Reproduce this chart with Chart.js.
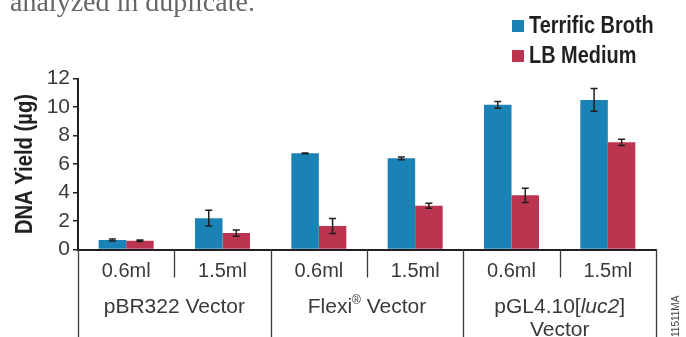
<!DOCTYPE html>
<html>
<head>
<meta charset="utf-8">
<script src="https://cdn.jsdelivr.net/npm/chart.js@4/dist/chart.umd.min.js"></script>
<style>
  html, body { margin: 0; padding: 0; background: #fff; overflow: hidden; }
  #wrap { position: relative; width: 686px; height: 337px; }
</style>
</head>
<body>
<div id="wrap"><canvas id="c"></canvas></div>
<script>
// Culture volume per bar pair
const volumes = ['0.6ml', '1.5ml', '0.6ml', '1.5ml', '0.6ml', '1.5ml'];

// Vector groups (two volumes each); runs allow italic / superscript parts
const vectorGroups = [
  [[{ t: 'pBR322 Vector' }]],
  [[{ t: 'Flexi' }, { t: '®', sup: true }, { t: ' Vector' }]],
  [[{ t: 'pGL4.10[' }, { t: 'luc2', italic: true }, { t: ']' }], [{ t: 'Vector' }]]
];

// DNA yield (µg), mean and error of duplicate preps
const terrificBroth    = [0.67, 2.20, 6.75, 6.40, 10.15, 10.50];
const terrificBrothErr = [0.07, 0.55, 0.03, 0.10, 0.23, 0.80];
const lbMedium         = [0.62, 1.15, 1.65, 3.07, 3.80, 7.52];
const lbMediumErr      = [0.05, 0.22, 0.53, 0.18, 0.50, 0.22];

const seriesNames = ['Terrific Broth', 'LB Medium'];
const yTitle = 'DNA Yield (µg)';
const captionTail = 'analyzed in duplicate.';
const figureCode = '11511MA';

const BLUE = '#1a82b4';
const RED = '#bb3551';
const INK = '#231f20';
const SANS = '"Liberation Sans", Arial, sans-serif';

// Bold condensed text: Liberation Sans Bold squeezed horizontally
function condensedText(ctx, text, x, y, size, squeeze, align) {
  ctx.save();
  ctx.font = 'bold ' + size + 'px ' + SANS;
  ctx.translate(x, y);
  ctx.scale(squeeze, 1);
  ctx.textAlign = align || 'left';
  ctx.fillText(text, 0, 0);
  ctx.restore();
}

// Error bars drawn from each bar's value +/- its error on the y scale
const errorBars = {
  id: 'errorBars',
  afterDatasetsDraw(chart) {
    const ctx = chart.ctx;
    const y = chart.scales.y;
    chart.data.datasets.forEach((ds, d) => {
      const meta = chart.getDatasetMeta(d);
      meta.data.forEach((bar, i) => {
        const v = ds.data[i], e = ds.errors[i];
        const top = y.getPixelForValue(v + e);
        const bot = y.getPixelForValue(v - e);
        ctx.save();
        ctx.strokeStyle = '#1e1e1e';
        ctx.lineWidth = 1.5;
        ctx.beginPath();
        ctx.moveTo(bar.x, top); ctx.lineTo(bar.x, bot);
        ctx.moveTo(bar.x - 3.5, top); ctx.lineTo(bar.x + 3.5, top);
        ctx.moveTo(bar.x - 3.5, bot); ctx.lineTo(bar.x + 3.5, bot);
        ctx.stroke();
        ctx.restore();
      });
    });
  }
};

// Category table below the axis: dividers and vector group names
function drawRuns(ctx, runs, cx, baseline, size) {
  const fontFor = r => (r.italic ? 'italic ' : '') + (r.sup ? Math.round(size * 0.55) : size) + 'px ' + SANS;
  let total = 0;
  runs.forEach(r => { ctx.font = fontFor(r); total += ctx.measureText(r.t).width; });
  let x = cx - total / 2;
  runs.forEach(r => {
    ctx.font = fontFor(r);
    ctx.fillText(r.t, x, r.sup ? baseline - size * 0.42 : baseline);
    x += ctx.measureText(r.t).width;
  });
}

const categoryTable = {
  id: 'categoryTable',
  afterDraw(chart) {
    const ctx = chart.ctx;
    const xs = chart.scales.x;
    const n = chart.data.labels.length;
    const step = (xs.right - xs.left) / n;
    const top = xs.top;
    ctx.save();
    ctx.strokeStyle = '#3a3a3a';
    ctx.lineWidth = 1.3;
    for (let k = 0; k <= n; k++) {
      const x = Math.round(xs.left + k * step) + 0.5;
      ctx.beginPath();
      ctx.moveTo(x, top);
      ctx.lineTo(x, k % 2 === 0 ? chart.height : top + 28);
      ctx.stroke();
    }
    ctx.fillStyle = '#3a3a3a';
    ctx.textBaseline = 'alphabetic';
    vectorGroups.forEach((lines, g) => {
      const cx = xs.left + (2 * g + 1) * step;
      lines.forEach((runs, li) => drawRuns(ctx, runs, cx, 313 + li * 23, 21));
    });
    ctx.restore();
  }
};

// Legend, axis title, caption fragment and figure code
const decorations = {
  id: 'decorations',
  afterDraw(chart) {
    const ctx = chart.ctx;
    const ys = chart.scales.y;
    ctx.save();
    ctx.textBaseline = 'alphabetic';
    chart.data.datasets.forEach((ds, d) => {
      const yTop = 20 + d * 30;
      ctx.fillStyle = ds.backgroundColor;
      ctx.fillRect(512, yTop, 12, 12);
      ctx.fillStyle = INK;
      condensedText(ctx, ds.label, 529, yTop + 12.5, 24, 0.83, 'left');
    });

    // y-axis title, rotated and centred on the plot height
    ctx.save();
    ctx.translate(32, (ys.top + ys.bottom) / 2);
    ctx.rotate(-Math.PI / 2);
    ctx.fillStyle = INK;
    condensedText(ctx, yTitle, 0, 0, 23, 0.88, 'center');
    ctx.restore();

    ctx.fillStyle = '#666';
    ctx.font = '28px "Liberation Serif", "Times New Roman", serif';
    ctx.textAlign = 'left';
    ctx.fillText(captionTail, 10, 11);

    ctx.translate(679, 337);
    ctx.rotate(-Math.PI / 2);
    ctx.fillStyle = '#444';
    ctx.font = '10px ' + SANS;
    ctx.fillText(figureCode, 0, 0);
    ctx.restore();
  }
};

new Chart(document.getElementById('c'), {
  type: 'bar',
  data: {
    labels: volumes,
    datasets: [
      { label: seriesNames[0], data: terrificBroth, errors: terrificBrothErr, backgroundColor: BLUE },
      { label: seriesNames[1], data: lbMedium, errors: lbMediumErr, backgroundColor: RED }
    ]
  },
  options: {
    responsive: true,
    maintainAspectRatio: false,
    animation: false,
    events: [],
    layout: { padding: { top: 78.5, right: 30, bottom: 0, left: 0 } },
    datasets: { bar: { categoryPercentage: 0.571, barPercentage: 1.0, borderWidth: 0 } },
    plugins: { legend: { display: false }, tooltip: { enabled: false } },
    scales: {
      x: {
        afterFit(s) { s.height = 87.5; },
        grid: { display: false, drawTicks: false },
        border: { display: true, color: INK, width: 2 },
        ticks: { color: '#3a3a3a', font: { family: SANS, size: 20 }, padding: 10, maxRotation: 0, autoSkip: false }
      },
      y: {
        min: 0, max: 12,
        afterFit(s) { s.width = 78; },
        grid: { drawOnChartArea: false, drawTicks: true, tickLength: 5, color: INK, lineWidth: 1.5 },
        border: { display: true, color: INK, width: 2 },
        ticks: { stepSize: 2, color: '#3a3a3a', font: { family: SANS, size: 21 }, padding: 3 }
      }
    }
  },
  plugins: [errorBars, categoryTable, decorations]
});
</script>
</body>
</html>
